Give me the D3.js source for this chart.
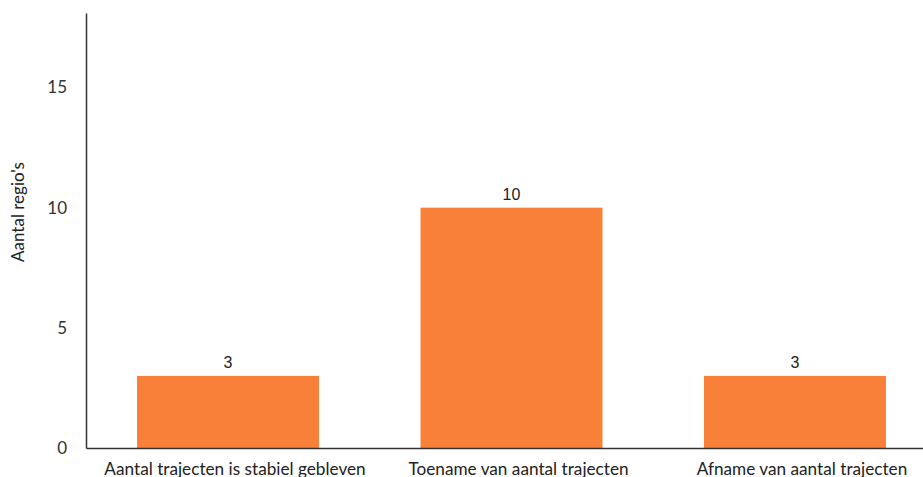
<!DOCTYPE html>
<html><head><meta charset="utf-8">
<script src="https://cdn.jsdelivr.net/npm/d3@7"></script>
<style>body{margin:0;background:#fff;overflow:hidden}</style>
</head><body>
<svg id="c" width="923" height="477"></svg>
<script>
const categories = ["Aantal trajecten is stabiel gebleven","Toename van aantal trajecten","Afname van aantal trajecten"];
const values = [3, 10, 3];
const yTicks = [0, 5, 10, 15];
const yTitle = "Aantal regio's";

const svg = d3.select("#c");
const x = d3.scaleBand().domain(categories).range([86, 937]).paddingInner(0.358).paddingOuter(0.18);
const y = d3.scaleLinear().domain([0, 18.1]).range([448, 13]);

svg.selectAll("rect.bar").data(values).join("rect")
  .attr("class","bar")
  .attr("x",(d,i)=>x(categories[i]))
  .attr("width",x.bandwidth())
  .attr("y",d=>y(d))
  .attr("height",d=>y(0)-y(d))
  .attr("fill","#f98039");

svg.selectAll("text.val").data(values).join("text")
  .attr("class","val")
  .attr("x",(d,i)=>x(categories[i])+x.bandwidth()/2)
  .attr("y",d=>y(d)-8)
  .attr("text-anchor","middle")
  .attr("font-family","Liberation Sans, Arial, sans-serif")
  .attr("font-size",16)
  .attr("fill","#222")
  .text(d=>d);

// y axis
const ya = svg.append("g").attr("transform","translate(86,0)")
  .call(d3.axisLeft(y).tickValues(yTicks).tickSize(0).tickPadding(19));
ya.select(".domain").attr("stroke","#333").attr("stroke-width",1.5);
ya.selectAll("text").attr("font-family","Lato, sans-serif").attr("font-size",17).attr("fill","#333");

// x axis
const xa = svg.append("g").attr("transform","translate(0,448)")
  .call(d3.axisBottom(x).tickSize(0).tickPadding(15));
xa.select(".domain").attr("stroke","#333").attr("stroke-width",1.5);
xa.selectAll("text").attr("font-family","Lato, sans-serif").attr("font-size",17.2).attr("fill","#222").attr("dx",7);

svg.append("text")
  .attr("transform","translate(24,212) rotate(-90)")
  .attr("text-anchor","middle")
  .attr("font-family","Lato, sans-serif")
  .attr("font-size",17)
  .attr("fill","#222")
  .text(yTitle);
</script>
</body></html>
